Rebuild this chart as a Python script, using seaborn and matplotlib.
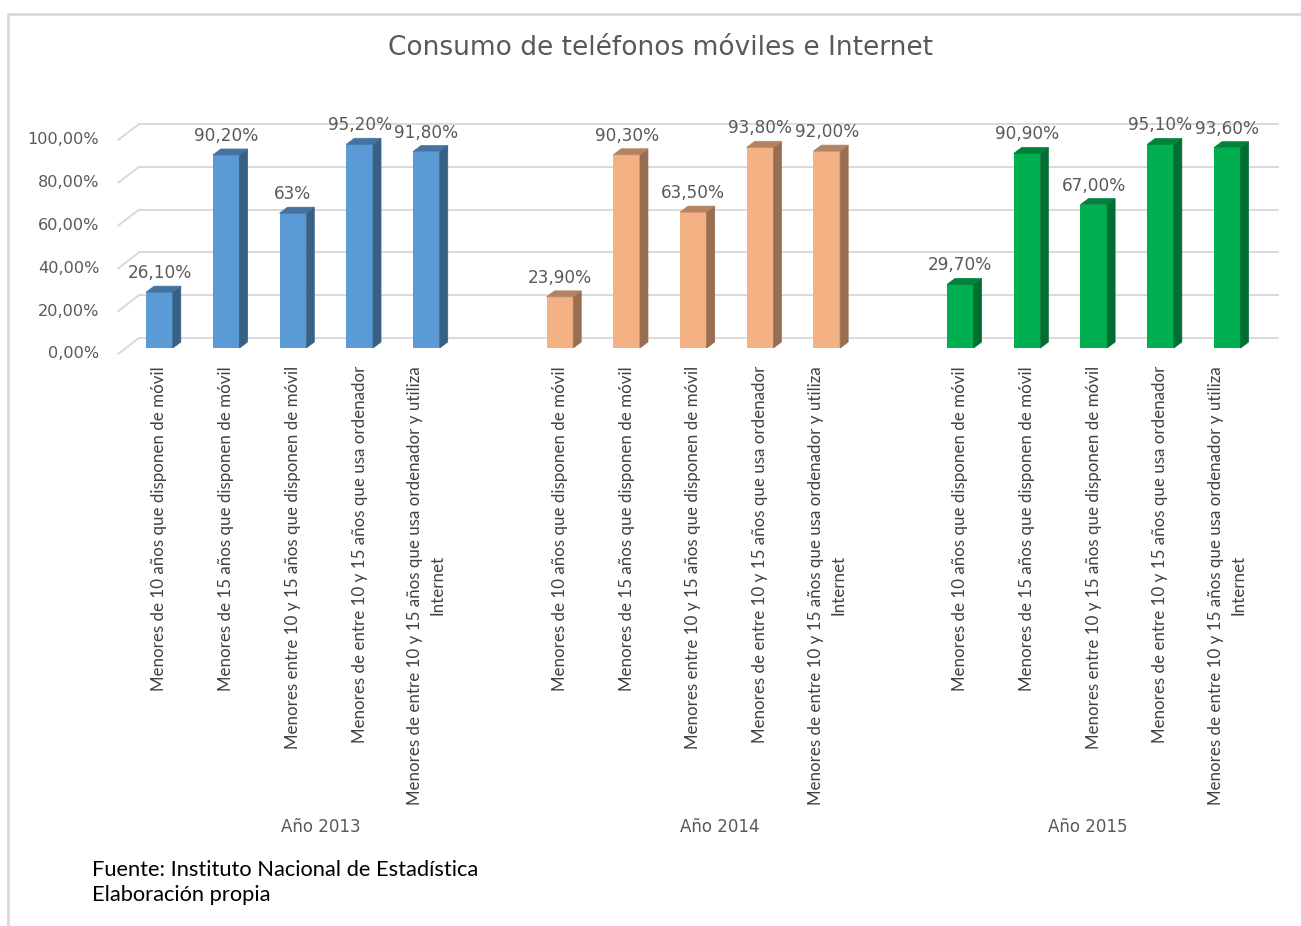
import matplotlib
matplotlib.use("Agg")
import matplotlib.pyplot as plt
import numpy as np
import pandas as pd
import seaborn as sns
from matplotlib.patches import Polygon
from matplotlib.lines import Line2D
from matplotlib.transforms import ScaledTranslation
from matplotlib.colors import to_rgb

# ---------------- data ----------------
years = ["Año 2013", "Año 2014", "Año 2015"]
categories = [
    "Menores de 10 años que disponen de móvil",
    "Menores de 15 años que disponen de móvil",
    "Menores entre 10 y 15 años que disponen de móvil",
    "Menores de entre 10 y 15 años que usa ordenador",
    "Menores de entre 10 y 15 años que usa ordenador y utiliza\nInternet",
]
values_2013 = [26.1, 90.2, 63.0, 95.2, 91.8]
values_2014 = [23.9, 90.3, 63.5, 93.8, 92.0]
values_2015 = [29.7, 90.9, 67.0, 95.1, 93.6]
labels_2013 = ["26,10%", "90,20%", "63%", "95,20%", "91,80%"]
labels_2014 = ["23,90%", "90,30%", "63,50%", "93,80%", "92,00%"]
labels_2015 = ["29,70%", "90,90%", "67,00%", "95,10%", "93,60%"]
y_ticks = [0, 20, 40, 60, 80, 100]
y_tick_labels = ["0,00%", "20,00%", "40,00%", "60,00%", "80,00%", "100,00%"]
title = "Consumo de teléfonos móviles e Internet"
source_lines = ["Fuente: Instituto Nacional de Estadística", "Elaboración propia"]

colors = {"Año 2013": "#5B9BD5", "Año 2014": "#F4B183", "Año 2015": "#00B050"}

all_values = [values_2013, values_2014, values_2015]
all_labels = [labels_2013, labels_2014, labels_2015]
rows = []
for gi, (yr, vals, labs) in enumerate(zip(years, all_values, all_labels)):
    for ci, (cat, v, lab) in enumerate(zip(categories, vals, labs)):
        rows.append({"pos": gi * 6 + ci, "value": v, "year": yr,
                     "category": cat, "label": lab})
df = pd.DataFrame(rows)

# ---------------- figure ----------------
W, H = 1301, 926
sns.set_theme(style="white")
plt.rcParams["font.family"] = ["DejaVu Sans"]

fig = plt.figure(figsize=(W / 100, H / 100), dpi=100)
fig.patch.set_facecolor("white")
ax = fig.add_axes([126.1 / W, 1 - 348 / H, 1134.5 / W, 214 / H])
ax.set_facecolor("none")

sns.barplot(data=df, x="pos", y="value", hue="year", palette=colors,
            native_scale=True, dodge=False, width=0.4, saturation=1,
            errorbar=None, legend=False, ax=ax, zorder=2)

ax.set_xlim(-0.5, 16.5)
ax.set_ylim(0, 100)
sns.despine(ax=ax, left=True, bottom=True, top=True, right=True)
ax.grid(False)

# pixel -> data conversions
p0 = ax.transData.transform((0, 0))
p1 = ax.transData.transform((1, 1))
sx = 1.0 / (p1[0] - p0[0])
sy = 1.0 / (p1[1] - p0[1])

grid_c = "#D9D9D9"
# back-wall gridlines + side stubs (pseudo 3D)
for v in y_ticks:
    ax.plot([-0.5 + 13 * sx, 16.5 + 17 * sx], [v + 10 * sy, v + 10 * sy],
            color=grid_c, lw=1.4, clip_on=False, zorder=0.5)
    ax.plot([-0.5 - 8 * sx, -0.5 + 13 * sx], [v - 6 * sy, v + 10 * sy],
            color=grid_c, lw=1.4, clip_on=False, zorder=0.5)

# 3D faces on each bar
ddx, ddy = 8 * sx, 6 * sy
for p in list(ax.patches):
    x0 = p.get_x()
    w = p.get_width()
    h = p.get_height()
    x1 = x0 + w
    fc = np.array(to_rgb(p.get_facecolor()))
    side = tuple(fc * 0.62)
    top = tuple(fc * 0.74)
    ax.add_patch(Polygon([(x1, 0), (x1, h), (x1 + ddx, h + ddy), (x1 + ddx, ddy)],
                         closed=True, facecolor=side, edgecolor=side, lw=0.5,
                         clip_on=False, zorder=2))
    ax.add_patch(Polygon([(x0, h), (x1, h), (x1 + ddx, h + ddy), (x0 + ddx, h + ddy)],
                         closed=True, facecolor=top, edgecolor=top, lw=0.5,
                         clip_on=False, zorder=2))
    p.set_edgecolor("none")
    p.set_clip_on(False)

# data labels
for _, r in df.iterrows():
    ax.annotate(r["label"], (r["pos"], r["value"]), xytext=(0, 13.7),
                textcoords="offset points", ha="center", va="center",
                fontsize=12.2, color="#595959", annotation_clip=False, zorder=5)

# y ticks
ax.set_yticks(y_ticks, y_tick_labels)
ax.tick_params(axis="y", length=0, pad=19.4, labelsize=11.6, labelcolor="#595959")
for lab in ax.get_yticklabels():
    lab.set_transform(lab.get_transform() + ScaledTranslation(0, -4.5 / 100, fig.dpi_scale_trans))

# x ticks (category labels)
ax.set_xticks(df["pos"].tolist(), df["category"].tolist())
ax.tick_params(axis="x", length=0, pad=13, labelsize=11.5, labelcolor="#404040")
for lab in ax.get_xticklabels():
    lab.set_rotation(90)
    lab.set_va("top")
    lab.set_ha("center")
    lab.set_multialignment("center")
    lab.set_linespacing(1.5)
    lab.set_fontfamily("Lato")
ax.set_xlabel("")
ax.set_ylabel("")

# group labels
group_px = [321, 720, 1088]
for yr, gx in zip(years, group_px):
    fig.text(gx / W, 1 - 827 / H, yr, ha="center", va="center",
             fontsize=12.0, color="#595959")

# title
t = fig.text(660 / W, 1 - 48 / H, title, ha="center", va="center",
             fontsize=19, color="#595959")

# source
s1 = fig.text(92 / W, 1 - 870 / H, source_lines[0], ha="left", va="center",
              fontsize=12.5, color="#000000", family="Lato")
s2 = fig.text(92 / W, 1 - 895 / H, source_lines[1], ha="left", va="center",
              fontsize=12.5, color="#000000", family="Lato")

# border
fig.add_artist(Line2D([8 / W, 8 / W], [0, 1 - 14 / H], transform=fig.transFigure,
                      color="#D9D9D9", lw=2))
fig.add_artist(Line2D([8 / W, 1], [1 - 14 / H, 1 - 14 / H], transform=fig.transFigure,
                      color="#D9D9D9", lw=2))

# fit text sizes to reference extents
fig.canvas.draw()
r = fig.canvas.get_renderer()
xl = ax.get_xticklabels()
bb = xl[0].get_window_extent(r)
scale = 322 / bb.height
for lab in xl:
    lab.set_fontsize(11.5 * scale)
bb = t.get_window_extent(r)
t.set_fontsize(19 * 546 / bb.width)
bb = s1.get_window_extent(r)
fs = 12.5 * 387 / bb.width
s1.set_fontsize(fs)
s2.set_fontsize(fs)

fig.savefig("out.png", dpi=100, facecolor="white")
